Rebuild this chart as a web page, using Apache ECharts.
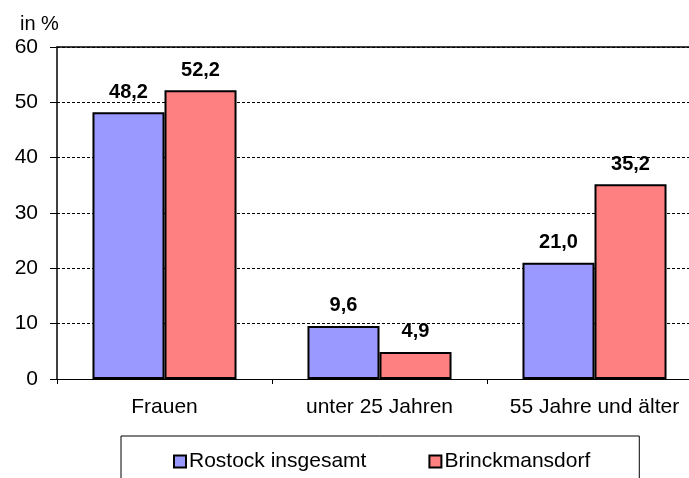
<!DOCTYPE html>
<html>
<head>
<meta charset="utf-8">
<script src="https://cdn.jsdelivr.net/npm/echarts@6/dist/echarts.min.js"></script>
<style>
  html, body { margin: 0; padding: 0; background: #fff; overflow: hidden; }
  /* plot runs past the right edge of the window, like the original */
  #chart { width: 702px; height: 478px; }
</style>
</head>
<body>
<div id="chart"></div>
<script>
const categories = ["Frauen", "unter 25 Jahren", "55 Jahre und älter"];
const rostock = [48.2, 9.6, 21.0];
const brinckmansdorf = [52.2, 4.9, 35.2];
const seriesNames = ["Rostock insgesamt", "Brinckmansdorf"];

const font = "Liberation Sans, Arial, sans-serif";
const fmt = (p) => p.value.toFixed(1).replace(".", ",");

const barLabel = {
  show: true,
  position: "top",
  distance: 10,
  formatter: fmt,
  fontFamily: font,
  fontSize: 20,
  fontWeight: "bold",
  color: "#000",
};

const chart = echarts.init(document.getElementById("chart"));
chart.setOption({
  animation: false,
  title: {
    text: "in %",
    left: 15,
    top: 9,
    textStyle: { fontFamily: font, fontSize: 20, fontWeight: "normal", color: "#000" },
  },
  grid: { left: 57, top: 47, bottom: 99, right: 0 },
  legend: {
    data: seriesNames,
    left: 121,
    top: 436,
    orient: "horizontal",
    itemWidth: 12,
    itemHeight: 12,
    itemGap: 62,
    padding: [15, 49, 60, 52],
    borderColor: "#000",
    borderWidth: 1,
    icon: "rect",
    itemStyle: { borderColor: "#000", borderWidth: 2 },
    textStyle: { fontFamily: font, fontSize: 21, color: "#000", padding: [0, 0, 0, -2] },
  },
  xAxis: [
    {
      type: "category",
      data: categories,
      axisLine: { lineStyle: { color: "#000", width: 1 } },
      axisTick: { show: true, length: 5, interval: 0, lineStyle: { color: "#000" } },
      axisLabel: { interval: 0, fontFamily: font, fontSize: 21, color: "#000", margin: 18 },
    },
    {
      type: "category",
      position: "top",
      data: categories,
      axisLine: { show: true, lineStyle: { color: "#000", width: 1.5 } },
      axisTick: { show: false },
      axisLabel: { show: false },
    },
  ],
  yAxis: {
    type: "value",
    min: 0,
    max: 60,
    interval: 10,
    axisLine: { show: true, lineStyle: { color: "#000", width: 1.5 } },
    axisTick: { show: true, length: 7, lineStyle: { color: "#000" } },
    axisLabel: { fontFamily: font, fontSize: 21, color: "#000", margin: 19 },
    splitLine: { show: true, lineStyle: { color: "#000", type: [3, 2], width: 1 } },
  },
  series: [
    {
      name: seriesNames[0],
      type: "bar",
      data: rostock,
      barWidth: "33.5%",
      barGap: "0%",
      itemStyle: { color: "#9999FF", borderColor: "#000", borderWidth: 2 },
      label: barLabel,
    },
    {
      name: seriesNames[1],
      type: "bar",
      data: brinckmansdorf,
      barWidth: "33.5%",
      barGap: "0%",
      itemStyle: { color: "#FF8080", borderColor: "#000", borderWidth: 2 },
      label: barLabel,
    },
  ],
});
</script>
</body>
</html>
